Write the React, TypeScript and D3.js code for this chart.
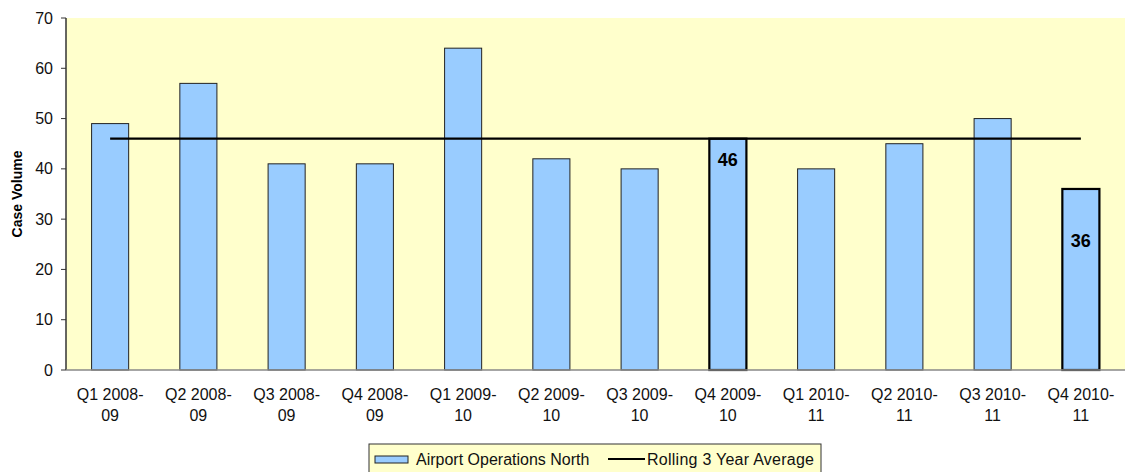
import React, { useEffect, useRef } from "react";
import * as d3 from "d3";

const CATEGORIES = [
  ["Q1 2008-", "09"], ["Q2 2008-", "09"], ["Q3 2008-", "09"], ["Q4 2008-", "09"],
  ["Q1 2009-", "10"], ["Q2 2009-", "10"], ["Q3 2009-", "10"], ["Q4 2009-", "10"],
  ["Q1 2010-", "11"], ["Q2 2010-", "11"], ["Q3 2010-", "11"], ["Q4 2010-", "11"],
];
const VALUES = [49, 57, 41, 41, 64, 42, 40, 46, 40, 45, 50, 36];
const AVERAGE = [46, 46, 46, 46, 46, 46, 46, 46, 46, 46, 46, 46];
const HIGHLIGHT = [7, 11];
// where the value labels sit, in data units
const LABEL_AT = [41.6, 25.4];
const Y_TICKS = [0, 10, 20, 30, 40, 50, 60, 70];

export default function App() {
  const svgRef = useRef<SVGSVGElement>(null);

  useEffect(() => {
    const width = 1125, height = 472;
    const margin = { top: 18, right: 0, bottom: 102, left: 66 };
    const svg = d3.select(svgRef.current);
    svg.selectAll("*").remove();
    const font = "'Liberation Sans', Arial, sans-serif";

    const x = d3.scaleBand<number>()
      .domain(d3.range(CATEGORIES.length))
      .range([margin.left, width - margin.right])
      .paddingInner(0.58)
      .paddingOuter(0.29);
    const y = d3.scaleLinear().domain([0, 70]).range([height - margin.bottom, margin.top]);

    // plot background
    svg.append("rect")
      .attr("x", margin.left).attr("y", margin.top)
      .attr("width", width - margin.left - margin.right)
      .attr("height", y(0) - margin.top)
      .attr("fill", "#FFFFCC");

    // bars
    svg.selectAll(".bar")
      .data(VALUES)
      .enter()
      .append("rect")
      .attr("x", (d, i) => x(i)!)
      .attr("y", d => y(d))
      .attr("width", x.bandwidth())
      .attr("height", d => y(0) - y(d))
      .attr("fill", "#99CCFF")
      .attr("stroke", (d, i) => HIGHLIGHT.includes(i) ? "#000" : "#222")
      .attr("stroke-width", (d, i) => HIGHLIGHT.includes(i) ? 2.2 : 1);

    // rolling average line
    const line = d3.line<number>()
      .x((d, i) => x(i)! + x.bandwidth() / 2)
      .y(d => y(d));
    svg.append("path")
      .datum(AVERAGE)
      .attr("d", line)
      .attr("fill", "none")
      .attr("stroke", "#000")
      .attr("stroke-width", 2.2);

    // value labels
    HIGHLIGHT.forEach((idx, k) => {
      svg.append("text")
        .attr("x", x(idx)! + x.bandwidth() / 2)
        .attr("y", y(LABEL_AT[k]))
        .attr("text-anchor", "middle")
        .attr("dominant-baseline", "middle")
        .attr("font-family", font)
        .attr("font-weight", "bold")
        .attr("font-size", "18px")
        .attr("fill", "#000")
        .text(VALUES[idx]);
    });

    // y axis
    svg.append("line")
      .attr("x1", margin.left).attr("x2", margin.left)
      .attr("y1", y(70)).attr("y2", y(0))
      .attr("stroke", "#333").attr("stroke-width", 1.5);
    const yt = svg.selectAll(".ytick").data(Y_TICKS).enter().append("g");
    yt.append("line")
      .attr("x1", margin.left - 5).attr("x2", margin.left)
      .attr("y1", d => y(d)).attr("y2", d => y(d))
      .attr("stroke", "#333");
    yt.append("text")
      .attr("x", margin.left - 13)
      .attr("y", d => y(d))
      .attr("dy", "0.35em")
      .attr("text-anchor", "end")
      .attr("font-family", font)
      .attr("font-size", "16px")
      .attr("fill", "#111")
      .text(d => d);

    // x axis
    svg.append("line")
      .attr("x1", margin.left).attr("x2", width)
      .attr("y1", y(0)).attr("y2", y(0))
      .attr("stroke", "#888").attr("stroke-width", 1.5);
    const xt = svg.selectAll(".xtick").data(CATEGORIES).enter().append("text")
      .attr("x", (d, i) => x(i)! + x.bandwidth() / 2)
      .attr("text-anchor", "middle")
      .attr("font-family", font)
      .attr("font-size", "16px")
      .attr("fill", "#111");
    xt.append("tspan").attr("x", (d, i) => x(i)! + x.bandwidth() / 2).attr("y", y(0) + 30).text(d => d[0]);
    xt.append("tspan").attr("x", (d, i) => x(i)! + x.bandwidth() / 2).attr("y", y(0) + 51).text(d => d[1]);

    // y axis title
    svg.append("text")
      .attr("transform", `translate(22,${(y(0) + y(70)) / 2}) rotate(-90)`)
      .attr("text-anchor", "middle")
      .attr("font-family", font)
      .attr("font-weight", "bold")
      .attr("font-size", "14px")
      .attr("fill", "#000")
      .text("Case Volume");

    // legend
    const lg = svg.append("g").attr("transform", "translate(369,444)");
    lg.append("rect")
      .attr("width", 452).attr("height", 34)
      .attr("fill", "#FFFFCC").attr("stroke", "#333").attr("stroke-width", 1);
    lg.append("rect")
      .attr("x", 6).attr("y", 12).attr("width", 33).attr("height", 7)
      .attr("fill", "#99CCFF").attr("stroke", "#222");
    lg.append("text")
      .attr("x", 47).attr("y", 15).attr("dy", "0.35em")
      .attr("font-family", font).attr("font-size", "16px").attr("fill", "#111")
      .text("Airport Operations North");
    lg.append("line")
      .attr("x1", 239).attr("x2", 276).attr("y1", 15).attr("y2", 15)
      .attr("stroke", "#000").attr("stroke-width", 2);
    lg.append("text")
      .attr("x", 278).attr("y", 15).attr("dy", "0.35em")
      .attr("font-family", font).attr("font-size", "16px").attr("fill", "#111")
      .attr("textLength", 167).attr("lengthAdjust", "spacing")
      .text("Rolling 3 Year Average");
  }, []);

  return (
    <div style={{ position: "absolute", left: 0, top: 0 }}>
      <svg ref={svgRef} width={1125} height={472} style={{ display: "block", background: "#fff" }} />
    </div>
  );
}
